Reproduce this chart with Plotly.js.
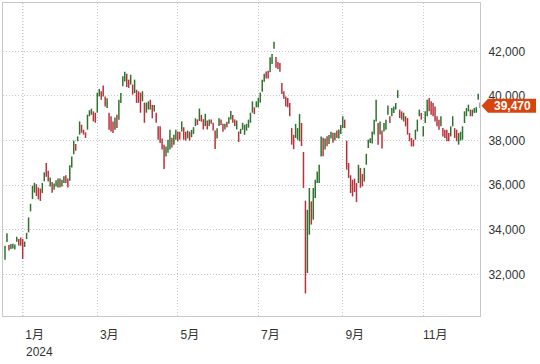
<!DOCTYPE html>
<html>
<head>
<meta charset="utf-8">
<script src="https://cdn.plot.ly/plotly-3.0.1.min.js"></script>
<style>
  html, body { margin: 0; padding: 0; background: #fff; }
  #chart { width: 540px; height: 364px; }
</style>
</head>
<body>
<div id="chart"></div>
<script>
// ---- Data (daily bars) ----
const dates = [
  '2023-12-19','2023-12-20','2023-12-21','2023-12-22','2023-12-25','2023-12-26','2023-12-27','2023-12-28','2023-12-29',
  '2024-01-04','2024-01-05','2024-01-09','2024-01-10','2024-01-11','2024-01-12','2024-01-15','2024-01-16','2024-01-17','2024-01-18','2024-01-19','2024-01-22','2024-01-23','2024-01-24','2024-01-25','2024-01-26','2024-01-29','2024-01-30','2024-01-31',
  '2024-02-01','2024-02-02','2024-02-05','2024-02-06','2024-02-07','2024-02-08','2024-02-09','2024-02-13','2024-02-14','2024-02-15','2024-02-16','2024-02-19','2024-02-20','2024-02-21','2024-02-22','2024-02-26','2024-02-27','2024-02-28','2024-02-29',
  '2024-03-01','2024-03-04','2024-03-05','2024-03-06','2024-03-07','2024-03-08','2024-03-11','2024-03-12','2024-03-13','2024-03-14','2024-03-15','2024-03-18','2024-03-19','2024-03-21','2024-03-22','2024-03-25','2024-03-26','2024-03-27','2024-03-28','2024-03-29',
  '2024-04-01','2024-04-02','2024-04-03','2024-04-04','2024-04-05','2024-04-08','2024-04-09','2024-04-10','2024-04-11','2024-04-12','2024-04-15','2024-04-16','2024-04-17','2024-04-18','2024-04-19','2024-04-22','2024-04-23','2024-04-24','2024-04-25','2024-04-26','2024-04-30',
  '2024-05-01','2024-05-02','2024-05-07','2024-05-08','2024-05-09','2024-05-10','2024-05-13','2024-05-14','2024-05-15','2024-05-16','2024-05-17','2024-05-20','2024-05-21','2024-05-22','2024-05-23','2024-05-24','2024-05-27','2024-05-28','2024-05-29','2024-05-30','2024-05-31',
  '2024-06-03','2024-06-04','2024-06-05','2024-06-06','2024-06-07','2024-06-10','2024-06-11','2024-06-12','2024-06-13','2024-06-14','2024-06-17','2024-06-18','2024-06-19','2024-06-20','2024-06-21','2024-06-24','2024-06-25','2024-06-26','2024-06-27','2024-06-28',
  '2024-07-01','2024-07-02','2024-07-03','2024-07-04','2024-07-05','2024-07-08','2024-07-09','2024-07-10','2024-07-11','2024-07-12','2024-07-16','2024-07-17','2024-07-18','2024-07-19','2024-07-22','2024-07-23','2024-07-24','2024-07-25','2024-07-26','2024-07-29','2024-07-30','2024-07-31',
  '2024-08-01','2024-08-02','2024-08-05','2024-08-06','2024-08-07','2024-08-08','2024-08-09','2024-08-13','2024-08-14','2024-08-15','2024-08-16','2024-08-19','2024-08-20','2024-08-21','2024-08-22','2024-08-23','2024-08-26','2024-08-27','2024-08-28','2024-08-29','2024-08-30',
  '2024-09-02','2024-09-03','2024-09-04','2024-09-05','2024-09-06','2024-09-09','2024-09-10','2024-09-11','2024-09-12','2024-09-13','2024-09-17','2024-09-18','2024-09-19','2024-09-20','2024-09-24','2024-09-25','2024-09-26','2024-09-27','2024-09-30',
  '2024-10-01','2024-10-02','2024-10-03','2024-10-04','2024-10-07','2024-10-08','2024-10-09','2024-10-10','2024-10-11','2024-10-15','2024-10-16','2024-10-17','2024-10-18','2024-10-21','2024-10-22','2024-10-23','2024-10-24','2024-10-25','2024-10-28','2024-10-29','2024-10-30','2024-10-31',
  '2024-11-01','2024-11-05','2024-11-06','2024-11-07','2024-11-08','2024-11-11','2024-11-12','2024-11-13','2024-11-14','2024-11-15','2024-11-18','2024-11-19','2024-11-20','2024-11-21','2024-11-22','2024-11-25','2024-11-26','2024-11-27','2024-11-28','2024-11-29',
  '2024-12-02','2024-12-03','2024-12-04','2024-12-05','2024-12-06','2024-12-09','2024-12-10','2024-12-11','2024-12-12','2024-12-13'
];

const open = [
  32700,33480,33320,33180,33200,33260,33480,33580,33600,
  33500,33250,33600,33900,34850,35400,35700,35950,35700,35600,35700,36200,36600,36600,36100,36100,35850,36000,36050,
  36250,36050,36200,36350,36250,36250,36850,37400,37800,37980,38300,38600,38450,38350,38500,39100,39160,39300,39250,
  39300,40000,40150,40300,39900,39500,39200,39000,38850,38550,39000,38950,39700,40450,40700,40900,40600,40550,40450,40150,
  40250,40100,40000,39800,39500,39300,39400,39700,39500,39350,39250,38600,38500,38040,37600,37300,37460,37700,38100,37820,38050,
  38400,38300,38450,38490,38350,38150,38350,38200,38310,38700,38900,38900,39100,38950,38700,38850,38700,38900,38800,38400,38200,
  38700,38950,38700,38550,38800,38800,39050,39100,38950,38600,38400,38350,38500,38500,38500,38600,38850,39300,39450,39500,
  39550,39750,40200,40700,41000,41000,41100,41500,42150,41700,41450,41400,40500,40150,39900,39800,39600,38500,38100,38200,38300,38300,
  38700,37300,35250,32100,34000,35100,34600,35500,36200,36300,37300,38000,37700,38100,37900,38150,38300,38050,38420,38150,38350,
  38600,38900,37900,36900,36420,36240,36250,36000,36150,36700,36400,36200,36950,37680,37900,37900,38300,38900,38700,
  38300,38400,38420,38500,39200,39050,39100,39260,39400,39920,39300,39250,38900,39050,38900,38300,38100,38000,38050,38450,39100,39200,
  38250,38800,39100,39800,39700,39600,39500,39050,38900,38650,38550,38450,38450,38300,38200,38650,38500,38450,37850,38050,
  38100,38800,39100,39320,39350,39100,39250,39260,39835,39700
];

const high = [
  33290,33850,33330,33370,33380,33350,33700,33590,33660,
  33600,33480,33870,34560,35170,35980,36110,36050,35900,35850,36100,36580,37000,36650,36350,36150,36080,36230,36300,
  36300,36250,36400,36450,36300,36900,37290,38000,37850,38190,38860,38710,38490,38370,39160,39360,39430,39310,39250,
  40150,40314,40210,40472,39980,39900,39250,39090,38860,39030,39160,39830,40130,40880,41087,41000,40730,40950,40510,40730,
  40280,40210,40150,40210,39700,39700,39760,39830,39600,39600,39250,38640,38640,38100,37820,37740,38040,38490,38130,38260,38490,
  38410,38400,38860,38600,38400,38450,38400,38480,38600,39000,38950,39437,39150,38960,39200,38900,38950,38950,38800,38450,38550,
  39000,38950,38750,38750,38850,39050,39330,39150,38950,38900,38410,38530,38800,38710,38750,38940,39250,39760,39490,39760,
  39920,40150,40730,41000,41100,41130,41730,41880,42426,41750,41520,41480,40580,40210,39980,39910,39690,38560,38260,38750,38560,39190,
  38790,37490,35310,34900,35880,35280,35880,36250,36620,36920,38190,38130,38100,38200,38250,38400,38350,38350,38450,38500,38700,
  39090,38940,38000,37000,36450,36250,36300,36100,36920,36780,36500,36780,37410,38040,38110,38410,38940,39830,38790,
  38860,38450,38790,38940,39570,39090,39460,39530,39690,40257,39390,39310,39250,39090,39010,38340,38120,38040,38490,38940,39390,39240,
  38640,39310,39830,39910,39760,39690,39530,39090,38940,39090,38560,38490,38490,38340,38640,39090,38560,38490,38340,38400,
  38640,39310,39460,39610,39390,39390,39460,39500,40100,39710
];

const low = [
  32660,33460,33080,33150,33170,33120,33470,33300,33290,
  32700,33240,33590,33890,34830,35380,35670,35520,35370,35300,35650,36180,36380,36170,35950,35660,35800,35950,35900,
  35900,35950,36100,36100,35900,36200,36800,37390,37550,37970,38270,38350,38270,38120,38490,39090,39160,38860,38800,
  39250,39980,39830,39980,39530,39460,38490,38410,38340,38490,38560,38940,39690,40430,40650,40400,40360,40510,40060,40130,
  39690,39690,39250,39760,38800,39250,39390,39390,39000,39300,38800,38040,37890,37600,36733,37290,37460,37600,37690,37820,38040,
  37970,38050,38410,38040,38000,38100,38000,38150,38300,38650,38700,38880,38850,38500,38650,38500,38650,38750,38450,37620,38100,
  38650,38700,38400,38500,38600,38750,38950,38800,38650,38500,37940,38300,38490,38260,38450,38580,38800,39250,39190,39490,
  39490,39700,40190,40640,40780,40780,41060,41430,42110,41260,41210,41080,40090,39870,39530,39490,39090,37820,37620,38120,38040,37970,
  37760,35880,31156,32070,33790,34240,34460,35430,36100,36100,37290,37300,37600,37750,37850,38100,37900,38000,38120,38100,38300,
  38560,38560,36700,36330,35650,35500,35700,35247,36100,35890,35950,36170,36920,37670,37890,37870,38270,38860,37820,
  38270,37650,38410,38490,39160,38790,39090,39240,39390,39910,39010,38940,38860,38640,38270,37970,37740,37740,38040,38410,39090,38940,
  38190,38790,39090,39310,39160,39090,38860,38640,38490,38640,38190,38120,37970,37970,38190,38640,38120,37970,37820,38000,
  38040,38790,39090,39310,39090,39090,39240,39250,39830,39460
];

const close = [
  33219,33675,33140,33250,33300,33305,33681,33539,33464,
  33288,33377,33763,34441,35049,35577,35901,35619,35477,35466,35963,36546,36517,36226,36236,35751,36026,36066,36287,
  36011,36158,36354,36160,36119,36863,36897,37963,37703,38157,38487,38470,38363,38262,39098,39233,39239,39208,39166,
  39910,40109,40097,40090,39598,39688,38820,38797,38695,38807,38707,39740,40003,40815,40888,40414,40398,40762,40168,40369,
  39803,39838,39451,39950,38992,39347,39700,39582,39442,39523,38900,38471,37961,37750,37068,37438,37552,38460,37750,37934,38405,
  38274,38236,38835,38202,38073,38229,38179,38356,38385,38920,38787,39069,38946,38617,39103,38646,38900,38855,38556,38054,38487,
  38923,38837,38490,38703,38683,39038,39134,38876,38720,38814,38102,38482,38570,38633,38596,38804,39173,39667,39341,39583,
  39631,40074,40580,40913,40912,40820,41580,41831,42224,41300,41275,41097,40126,40063,39599,39594,39154,37869,37667,38468,38525,39101,
  38126,35909,31458,34675,35089,34831,35025,36232,36442,36726,38062,37388,38062,37951,38211,38364,38110,38288,38371,38362,38647,
  38700,38686,37047,36657,36391,36215,36159,35619,36833,36581,36203,36380,37155,37723,37940,37970,38925,39829,37919,
  38651,37808,38552,38635,39332,38937,39277,39380,39605,40050,39180,38960,38981,38954,38411,38104,37950,37913,38450,38900,39277,39081,
  38450,39200,39480,39381,39300,39200,38950,38721,38535,38900,38220,38300,38100,38026,38500,38780,38442,38134,38200,38208,
  38513,39248,39276,39395,39150,39300,39367,39372,39849,39470
];

// Axis ticks / labels
const monthTickDates = ['2024-01-04','2024-03-01','2024-05-01','2024-07-01','2024-09-02','2024-11-01'];
const monthTickLabels = ['1月','3月','5月','7月','9月','11月'];
const yearLabel = '2024';
const yTicks = [32000, 34000, 36000, 38000, 40000, 42000];

// ---- Styling ----
const UP = '#2f732f';
const DOWN = '#b8323c';
const GRID = '#c8c8c8';
const FONT = 'Liberation Sans, Arial, Noto Sans CJK JP, sans-serif';
const TAG = '#d5450d';

const trace = {
  type: 'ohlc',
  x: dates, open: open, high: high, low: low, close: close,
  tickwidth: 0,
  increasing: { line: { color: UP, width: 1.5 } },
  decreasing: { line: { color: DOWN, width: 1.5 } },
  hoverinfo: 'none'
};

const yearIdx = dates.indexOf(monthTickDates[0]);
const lastClose = close[close.length - 1];
const lastText = lastClose.toLocaleString('en-US');

const layout = {
  width: 540, height: 364,
  margin: { l: 3, r: 60, t: 3, b: 48, pad: 0 },
  paper_bgcolor: '#ffffff', plot_bgcolor: '#ffffff',
  showlegend: false,
  font: { family: FONT, size: 12, color: '#333' },
  xaxis: {
    type: 'category',
    range: [-1.02, 241.9],
    rangeslider: { visible: false },
    tickmode: 'array', tickvals: monthTickDates, ticktext: monthTickLabels,
    showgrid: true, gridcolor: GRID, gridwidth: 1, griddash: '1px,2px',
    showline: true, linecolor: GRID, linewidth: 1, mirror: true,
    ticks: '', ticklabelshift: 12, ticklabelstandoff: 8,
    tickfont: { family: FONT, size: 12, color: '#333' },
    zeroline: false, fixedrange: true
  },
  yaxis: {
    side: 'right',
    range: [30146, 44163],
    tickmode: 'array', tickvals: yTicks, tickformat: ',d',
    showgrid: true, gridcolor: GRID, gridwidth: 1, griddash: '1px,2px',
    showline: true, linecolor: GRID, linewidth: 1, mirror: true,
    ticks: '', ticklabelstandoff: 5,
    tickfont: { family: FONT, size: 12, color: '#333' },
    zeroline: false, fixedrange: true
  },
  shapes: [
    { type: 'line', xref: 'x', yref: 'paper', x0: yearIdx, x1: yearIdx, y0: 0, y1: 1,
      line: { color: '#555555', width: 1, dash: '1px,2px' }, layer: 'below' },
    { type: 'path', xref: 'paper', yref: 'y', xsizemode: 'pixel', ysizemode: 'pixel',
      xanchor: 1, yanchor: lastClose,
      path: 'M 1.5 2 L 8 9 L 56 9 L 56 -5 L 8 -5 Z',
      fillcolor: TAG, line: { width: 0 }, layer: 'above' }
  ],
  annotations: [
    { xref: 'x', yref: 'paper', x: yearIdx, y: 0, xanchor: 'left', yanchor: 'middle',
      xshift: 1, yshift: -36, text: yearLabel, showarrow: false,
      font: { family: FONT, size: 12, color: '#333' } },
    { xref: 'paper', yref: 'y', x: 1, y: lastClose, xanchor: 'center', yanchor: 'middle',
      xshift: 32, yshift: 2, text: '<b>' + lastText + '</b>', showarrow: false,
      font: { family: FONT, size: 12, color: '#ffffff' } }
  ]
};

Plotly.newPlot('chart', [trace], layout, { staticPlot: true, displayModeBar: false });
</script>
</body>
</html>
